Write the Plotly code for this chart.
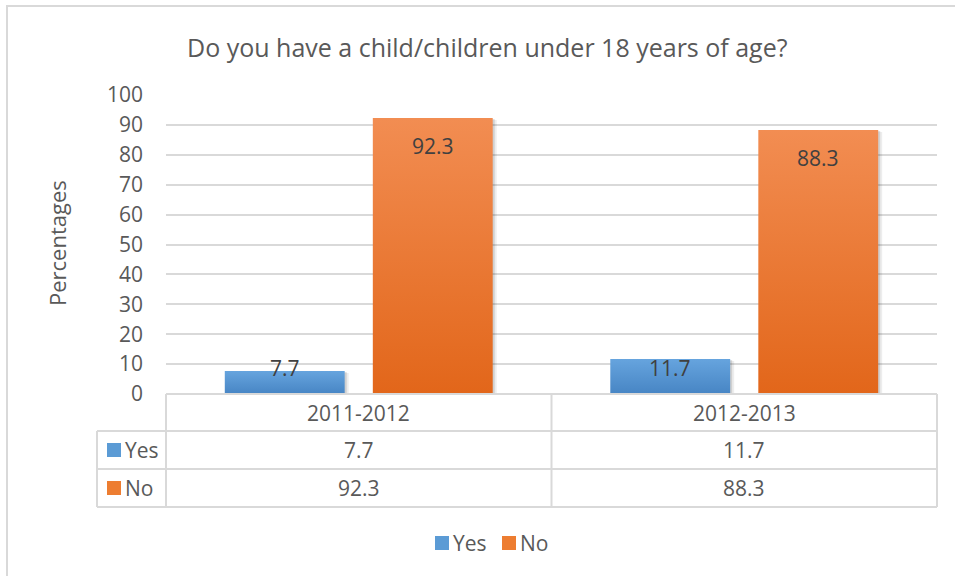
import plotly.graph_objects as go

# ---- data -------------------------------------------------------------
periods = ["2011-2012", "2012-2013"]
series_names = ["Yes", "No"]
yes_values = [7.7, 11.7]
no_values = [92.3, 88.3]
y_ticks = [0, 10, 20, 30, 40, 50, 60, 70, 80, 90, 100]

chart_title = "Do you have a child/children under 18 years of age?"
y_title = "Percentages"

# ---- styling ----------------------------------------------------------
FONT = "Open Sans"
TEXT = "#595959"
DARK_TEXT = "#404040"
GRID = "#D9D9D9"
BODY_SIZE = 21
series_style = {
    "Yes": {"light": "#66A4DE", "dark": "#4785C4", "key": "#5B9BD5"},
    "No": {"light": "#F28D52", "dark": "#E2661A", "key": "#ED7D31"},
}

W, H = 955, 576
# plot area in pixels
PL, PR, PT, PB = 166, 937, 95, 394
PX_PER_UNIT_X = (PR - PL) / 2.0
PX_PER_UNIT_Y = (PB - PT) / 100.0

BAR_OFFSET = 0.192   # distance of each bar centre from its category centre
BAR_WIDTH = 0.311


def px(xp):
    return (xp - PL) / (PR - PL)


def py(yp):
    return (PB - yp) / (PB - PT)


def text_at(xp, yp, text, size=BODY_SIZE, color=TEXT, xanchor="center", **kw):
    return dict(x=px(xp), y=py(yp), xref="paper", yref="paper",
                xanchor=xanchor, yanchor="middle", text=text, showarrow=False,
                font=dict(family=FONT, size=size, color=color), **kw)


fig = go.Figure()

series_values = {"Yes": yes_values, "No": no_values}
annotations = []

for si, name in enumerate(series_names):
    offset = -BAR_OFFSET if si == 0 else BAR_OFFSET
    style = series_style[name]
    for ci, v in enumerate(series_values[name]):
        xc = ci + offset
        x0, x1 = xc - BAR_WIDTH / 2, xc + BAR_WIDTH / 2
        # soft drop shadow, two layers
        for spx, alpha in ((4, 0.07), (2, 0.12)):
            dx = spx / PX_PER_UNIT_X
            dy = spx / PX_PER_UNIT_Y
            fig.add_trace(go.Scatter(
                x=[x0 + dx * 0.5, x1 + dx, x1 + dx, x0 + dx * 0.5, x0 + dx * 0.5],
                y=[-dy, -dy, v - dy * 0.5, v - dy * 0.5, -dy],
                fill="toself", mode="lines", line=dict(width=0),
                fillcolor=f"rgba(0,0,0,{alpha})",
                hoverinfo="skip", showlegend=False,
            ))
        # gradient-filled bar
        fig.add_trace(go.Scatter(
            x=[x0, x1, x1, x0, x0],
            y=[0, 0, v, v, 0],
            fill="toself", mode="lines", line=dict(width=0),
            fillgradient=dict(
                type="vertical",
                colorscale=[[0, style["dark"]], [1, style["light"]]],
            ),
            name=name, hoverinfo="skip", showlegend=False,
        ))
        # value label at the inside end of the bar
        annotations.append(dict(
            x=xc, y=max(v - 9.5, 8.7), xref="x", yref="y",
            xanchor="center", yanchor="middle",
            text=f"{v}", showarrow=False,
            font=dict(family=FONT, size=BODY_SIZE, color=DARK_TEXT),
        ))

shapes = []


def hline(y, xa, xb):
    shapes.append(dict(type="line", xref="paper", yref="paper",
                       x0=px(xa), x1=px(xb), y0=py(y), y1=py(y),
                       line=dict(color=GRID, width=2)))


def vline(x, ya, yb):
    shapes.append(dict(type="line", xref="paper", yref="paper",
                       x0=px(x), x1=px(x), y0=py(ya), y1=py(yb),
                       line=dict(color=GRID, width=2)))


# data table beneath the plot
ROW_TOPS = [394, 431, 469, 507]
COL_EDGES = [PL, (PL + PR) / 2, PR]
LEFT_EDGE = 97
hline(ROW_TOPS[0], PL, PR)
for y in ROW_TOPS[1:]:
    hline(y, LEFT_EDGE, PR)
for x in COL_EDGES:
    vline(x, ROW_TOPS[0], ROW_TOPS[-1])
vline(LEFT_EDGE, ROW_TOPS[1], ROW_TOPS[-1])

for ci, period in enumerate(periods):
    xc = PL + (ci + 0.5) * PX_PER_UNIT_X
    annotations.append(text_at(xc, (ROW_TOPS[0] + ROW_TOPS[1]) / 2, period))
    for ri, name in enumerate(series_names):
        yc = (ROW_TOPS[ri + 1] + ROW_TOPS[ri + 2]) / 2
        annotations.append(text_at(xc, yc, f"{series_values[name][ci]}"))

for ri, name in enumerate(series_names):
    yc = (ROW_TOPS[ri + 1] + ROW_TOPS[ri + 2]) / 2
    shapes.append(dict(type="rect", xref="paper", yref="paper",
                       x0=px(107), x1=px(121), y0=py(yc + 7), y1=py(yc - 7),
                       fillcolor=series_style[name]["key"], line=dict(width=0)))
    annotations.append(text_at(123, yc, name, xanchor="left"))

# legend under the table
LEG_Y = 543
for name, kx in zip(series_names, [435, 502]):
    shapes.append(dict(type="rect", xref="paper", yref="paper",
                       x0=px(kx), x1=px(kx + 14), y0=py(LEG_Y + 7), y1=py(LEG_Y - 7),
                       fillcolor=series_style[name]["key"], line=dict(width=0)))
    annotations.append(text_at(kx + 16, LEG_Y, name, xanchor="left"))

# chart title and y-axis title
annotations.append(text_at(487, 47, chart_title, size=25))
annotations.append(text_at(57, 243, y_title, size=22, textangle=-90))

# outer chart frame (top and left edges)
shapes.append(dict(type="line", xref="paper", yref="paper",
                   x0=px(7), x1=px(7), y0=py(H + 5), y1=py(6),
                   line=dict(color=GRID, width=2)))
shapes.append(dict(type="line", xref="paper", yref="paper",
                   x0=px(6), x1=px(W + 5), y0=py(6), y1=py(6),
                   line=dict(color=GRID, width=2)))

fig.update_layout(
    width=W, height=H,
    margin=dict(l=PL, r=W - PR, t=PT, b=H - PB),
    paper_bgcolor="white", plot_bgcolor="white",
    showlegend=False,
    xaxis=dict(range=[-0.5, 1.5], visible=False, fixedrange=True),
    yaxis=dict(
        range=[0, 100], tickvals=y_ticks, ticktext=[str(t) for t in y_ticks],
        showgrid=True, gridcolor=GRID, gridwidth=1.5,
        zeroline=False, showline=False, ticks="",
        tickfont=dict(family=FONT, size=BODY_SIZE, color=TEXT),
        ticklabelstandoff=22, fixedrange=True,
    ),
    shapes=shapes,
    annotations=annotations,
)

fig.write_html("out.html")
